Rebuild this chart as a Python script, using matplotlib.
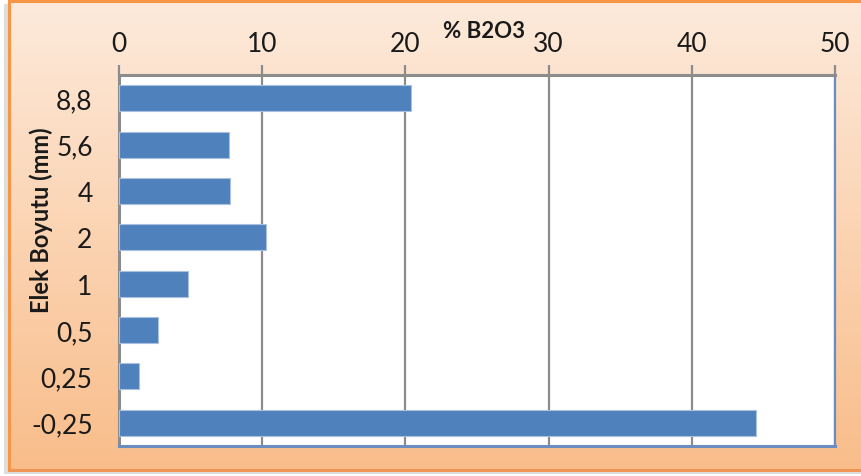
import numpy as np
import matplotlib
matplotlib.use("Agg")
import matplotlib.pyplot as plt
from matplotlib.patches import Rectangle

# Sieve sizes (mm) and B2O3 percentage per fraction
categories = ["8,8", "5,6", "4", "2", "1", "0,5", "0,25", "-0,25"]
b2o3_pct = [20.4, 7.7, 7.75, 10.3, 4.85, 2.75, 1.4, 44.5]
x_ticks = [0, 10, 20, 30, 40, 50]

plt.rcParams["font.family"] = ["Lato", "DejaVu Sans"]

W, H = 861, 477
fig = plt.figure(figsize=(W / 100, H / 100), dpi=100)
fig.patch.set_facecolor("white")

# Chart frame: peach gradient with orange border and soft shadow
bg = fig.add_axes([0, 0, 1, 1], zorder=0)
bg.set_xlim(0, W)
bg.set_ylim(H, 0)
bg.axis("off")

bg.add_patch(Rectangle((4, 5), W, 472 - 5 + 3, facecolor="#c8c8c8", edgecolor="none", alpha=0.6))
top_c = np.array([253, 234, 219]) / 255
bot_c = np.array([249, 189, 138]) / 255
t = np.linspace(0, 1, 200)[:, None, None]
grad = top_c[None, None, :] * (1 - t) + bot_c[None, None, :] * t
grad = np.repeat(grad, 4, axis=1)
bg.imshow(grad, extent=[9, W + 2, 471, 2], aspect="auto", zorder=1)
bg.plot([9, 9, W + 2], [471, 2, 2], color="#F79646", lw=2.2, zorder=2, solid_joinstyle="miter")
bg.plot([9, W + 2], [471, 471], color="#EE9455", lw=2.2, zorder=2)

# Plot area
ax = fig.add_axes([119 / W, 1 - 447 / H, (835 - 119) / W, (447 - 76) / H], zorder=2)
ax.set_facecolor("white")

y = np.arange(len(categories))
ax.barh(y, b2o3_pct, height=0.56, color="#4F81BD", edgecolor="#A9C0E0", linewidth=0.8, zorder=3)

ax.set_xlim(0, 50)
ax.set_ylim(len(categories) - 0.5, -0.5)
ax.set_xticks(x_ticks)
ax.set_yticks(y)
ax.set_yticklabels(categories)
ax.xaxis.tick_top()
ax.grid(axis="x", color="#8C8C8C", linewidth=1.6, zorder=1)
ax.set_axisbelow(True)

ax.tick_params(axis="x", top=True, bottom=False, length=7, width=1.6, color="#8C8C8C",
               labelsize=19, pad=7, labelcolor="#1a1a1a")
ax.tick_params(axis="y", left=False, length=0, labelsize=19, pad=19, labelcolor="#1a1a1a")

ax.spines["top"].set_color("#8C8C8C")
ax.spines["top"].set_linewidth(2.2)
ax.spines["left"].set_color("#8C8C8C")
ax.spines["left"].set_linewidth(2.2)
ax.spines["right"].set_color("#6A8CC0")
ax.spines["right"].set_linewidth(1.6)
ax.spines["bottom"].set_color("#6A8CC0")
ax.spines["bottom"].set_linewidth(2.2)

fig.text(484 / W, 1 - 31 / H, "% B2O3", ha="center", va="center", fontsize=16,
         fontweight="bold", color="#1a1a1a", zorder=5)
fig.text(41 / W, 1 - 220 / H, "Elek Boyutu (mm)", ha="center", va="center", rotation=90,
         fontsize=17, fontweight="bold", color="#1a1a1a", zorder=5)

fig.savefig("out.png", dpi=100)
